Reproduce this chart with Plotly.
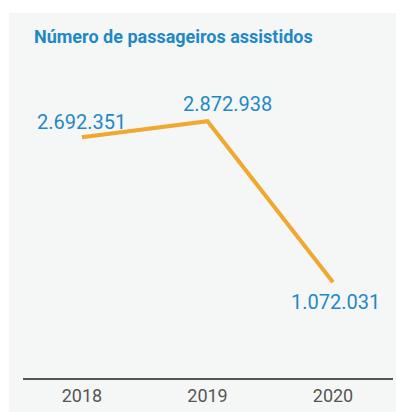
import plotly.graph_objects as go

# Passengers assisted per year
years = ["2018", "2019", "2020"]
passengers = [2692351, 2872938, 1072031]
value_labels = ["2.692.351", "2.872.938", "1.072.031"]

BLUE = "#1f89c6"
ORANGE = "#f0a830"
GREY = "#555555"

W, H = 396, 412
ml, mr, mt, mb = 23, 3, 60, 34
pw, ph = W - ml - mr, H - mt - mb

xs = list(range(len(years)))

fig = go.Figure()
fig.add_trace(go.Scatter(
    x=xs, y=passengers, mode="lines",
    line=dict(color=ORANGE, width=4),
    hoverinfo="skip", showlegend=False,
))

# value labels: above for first two, below for the last
offsets = [(0, 15), (20, 17), (2, -20)]
for x, v, lab, (dx, dy) in zip(xs, passengers, value_labels, offsets):
    fig.add_annotation(
        x=x, y=v, text=lab, showarrow=False,
        xshift=dx, yshift=dy,
        font=dict(family="Roboto", size=20, color=BLUE),
    )

# light panel behind the chart
def px_to_paper_x(px):
    return (px - ml) / pw

def px_to_paper_y(py):
    return (H - mb - py) / ph

fig.add_shape(
    type="rect", xref="paper", yref="paper", layer="below",
    x0=px_to_paper_x(9), x1=px_to_paper_x(W + 5),
    y0=px_to_paper_y(H + 5), y1=px_to_paper_y(13),
    fillcolor="#f5f7f7", line=dict(width=0),
)

fig.add_annotation(
    xref="paper", yref="paper",
    x=px_to_paper_x(32), y=px_to_paper_y(37),
    xanchor="left", yanchor="middle", showarrow=False,
    text="<b>Número de passageiros assistidos</b>",
    font=dict(family="Roboto", size=18, color=BLUE),
)

fig.update_layout(
    width=W, height=H,
    margin=dict(l=ml, r=mr, t=mt, b=mb),
    paper_bgcolor="white",
    plot_bgcolor="rgba(0,0,0,0)",
    xaxis=dict(
        range=[-0.47, 2.478], tickmode="array", tickvals=xs, ticktext=years,
        showgrid=False, zeroline=False, showline=True,
        linecolor=GREY, linewidth=2, ticks="",
        tickfont=dict(family="Roboto", size=18, color=GREY),
        fixedrange=True,
    ),
    yaxis=dict(
        range=[0, ph / 89.4 * 1e6], visible=False,
        showgrid=False, zeroline=False, fixedrange=True,
    ),
)

fig.write_html("out.html")
